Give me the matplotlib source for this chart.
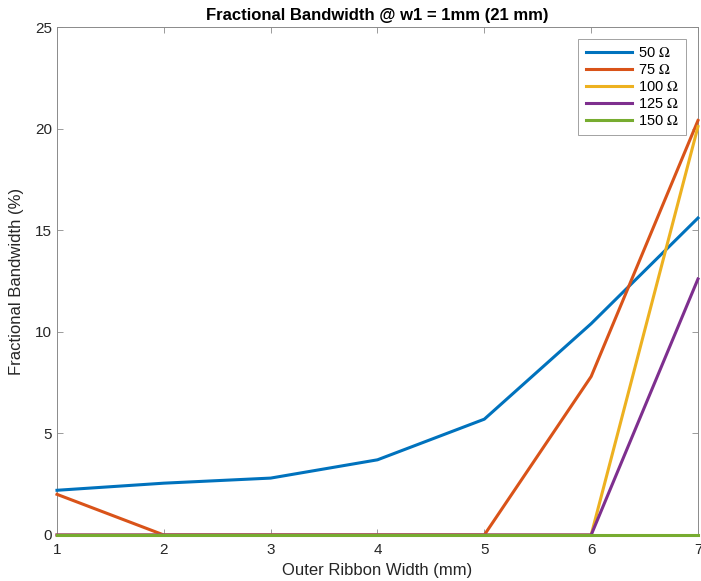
import numpy as np
import matplotlib.pyplot as plt

plt.rcParams['font.family'] = ['Liberation Sans', 'DejaVu Sans']
plt.rcParams['mathtext.fontset'] = 'stix'

# outer ribbon width (mm)
w = np.array([1, 2, 3, 4, 5, 6, 7])

# fractional bandwidth (%) per impedance
bw50 = np.array([2.2, 2.55, 2.8, 3.7, 5.7, 10.4, 15.6])
bw75 = np.array([2.0, 0, 0, 0, 0, 7.8, 20.4])
bw100 = np.array([0, 0, 0, 0, 0, 0, 20.1])
bw125 = np.array([0, 0, 0, 0, 0, 0, 12.6])
bw150 = np.array([0, 0, 0, 0, 0, 0, 0])

labels = ['50 $\\Omega$', '75 $\\Omega$', '100 $\\Omega$', '125 $\\Omega$', '150 $\\Omega$']
colors = ['#0072BD', '#D95319', '#EDB120', '#7E2F8E', '#77AC30']

fig = plt.figure(figsize=(7.01, 5.81), dpi=100)
ax = fig.add_axes([0.0813, 0.0792, 0.9144, 0.8743])

for y, lab, c in zip([bw50, bw75, bw100, bw125, bw150], labels, colors):
    ax.plot(w, y, color=c, linewidth=2.2, label=lab, clip_on=False, zorder=3)

ax.set_xlim(1, 7)
ax.set_ylim(0, 25)
ax.set_xticks(range(1, 8))
ax.set_yticks(range(0, 26, 5))
ax.tick_params(direction='in', top=True, right=True, colors='#8a8a8a',
               labelcolor='#262626', labelsize=11, length=4, width=0.6)
ax.tick_params(axis='x', pad=6)
for s in ax.spines.values():
    s.set_color('#8a8a8a')
    s.set_linewidth(0.7)

ax.set_xlabel('Outer Ribbon Width (mm)', fontsize=12, color='#262626', labelpad=4)
ax.set_ylabel('Fractional Bandwidth (%)', fontsize=12, color='#262626', labelpad=8)
ax.set_title('Fractional Bandwidth @ w1 = 1mm (21 mm)', fontsize=12, fontweight='bold', pad=5)

leg = ax.legend(loc='upper right', fontsize=10.5, frameon=True, fancybox=False,
                edgecolor='#8a8a8a', handlelength=3.2, borderaxespad=0.8,
                labelspacing=0.2, handletextpad=0.4, borderpad=0.5)
leg.get_frame().set_linewidth(0.7)

fig.savefig('out.png', dpi=100)
